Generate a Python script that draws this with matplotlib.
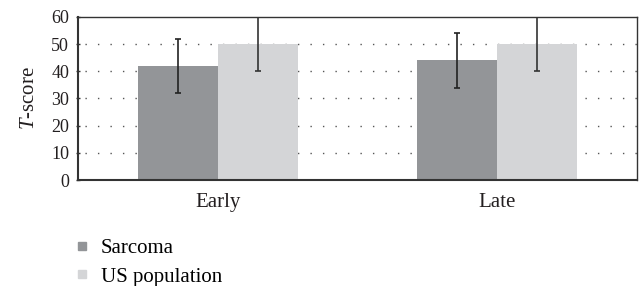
import matplotlib
matplotlib.use("Agg")
import matplotlib.pyplot as plt
from matplotlib.lines import Line2D
import numpy as np

categories = ["Early", "Late"]
series_names = ["Sarcoma", "US population"]
sarcoma = [42, 44]
sarcoma_err = [10, 10]
us_pop = [50, 50]
us_err = [10, 10]
yticks = [0, 10, 20, 30, 40, 50, 60]

plt.rcParams['font.family'] = ['Liberation Serif', 'DejaVu Serif']
plt.rcParams['mathtext.fontset'] = 'custom'
plt.rcParams['mathtext.it'] = 'Liberation Serif:italic'
plt.rcParams['mathtext.rm'] = 'Liberation Serif'

fs = 15
fs_tick = 13
tc = '#231f20'
fig = plt.figure(figsize=(6.4, 2.86), dpi=100)
ax = fig.add_axes([0.122, 0.3706, 0.873, 0.570])

x = np.arange(len(categories))
w = 0.286
c1 = '#939598'
c2 = '#d4d5d7'
ax.bar(x - w/2, sarcoma, w, color=c1, zorder=2,
       yerr=sarcoma_err, error_kw=dict(ecolor='#222222', elinewidth=1.2, capsize=2.5, capthick=1.2))
ax.bar(x + w/2, us_pop, w, color=c2, zorder=2,
       yerr=us_err, error_kw=dict(ecolor='#333333', elinewidth=1.2, capsize=2.5, capthick=1.2))

ax.set_xlim(-0.5, 1.5)
ax.set_ylim(0, 60)
ax.set_yticks(yticks)
ax.set_xticks(x)
ax.set_xticklabels(categories)
ax.tick_params(axis='y', direction='inout', length=3, width=1.0, color='#333333',
               labelsize=fs_tick, labelcolor=tc, pad=5)
ax.tick_params(axis='x', length=0, labelsize=fs, labelcolor=tc, pad=9.5)
for yv in yticks[1:-1]:
    ax.axhline(yv, color='#555555', lw=1.0, ls=(4, (1, 8)), zorder=1)
for s in ax.spines.values():
    s.set_color('#333333')
    s.set_linewidth(1.0)
ax.spines['bottom'].set_linewidth(1.5)
ax.spines['left'].set_linewidth(1.5)
ax.set_ylabel('$T$-score', fontsize=fs, color=tc, labelpad=9)

handles = [Line2D([], [], marker='s', ls='none', color=c1, markersize=5.5),
           Line2D([], [], marker='s', ls='none', color=c2, markersize=5.5)]
fig.legend(handles, series_names, loc='upper left', bbox_to_anchor=(0.122, 0.167),
           frameon=False, fontsize=fs, handletextpad=0.7, labelspacing=0.45,
           handlelength=0.4, borderaxespad=0, borderpad=0)

fig.savefig("out.png", dpi=100)
